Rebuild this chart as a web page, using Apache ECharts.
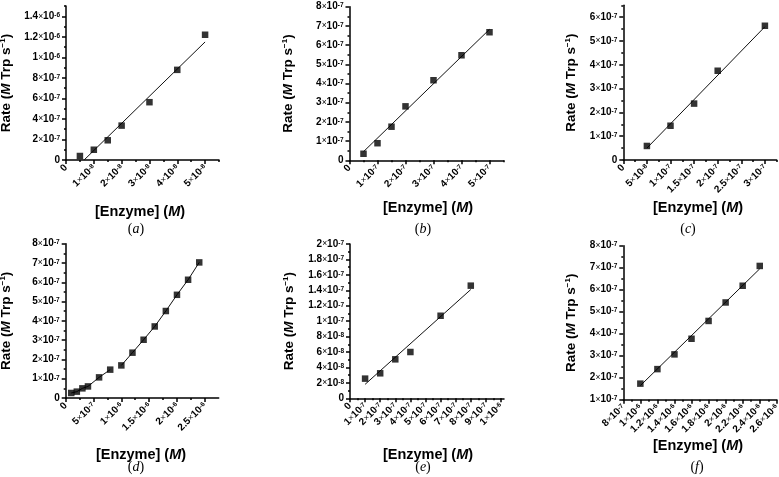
<!DOCTYPE html>
<html><head><meta charset="utf-8">
<script src="https://cdn.jsdelivr.net/npm/echarts@6/dist/echarts.min.js"></script>
<style>html,body{margin:0;padding:0;background:#fff}#c{width:779px;height:477px}</style>
</head><body><div id="c"></div>
<script>
// ---------- data ----------
// (a)
const xA = [0.5e-8, 1e-8, 1.5e-8, 2e-8, 3e-8, 4e-8, 5e-8];
const yA = [0.39e-7, 1.0e-7, 1.92e-7, 3.35e-7, 5.63e-7, 8.78e-7, 1.22e-6];
const fitXA = [0.65e-8, 5e-8];
const fitYA = [0, 1.15e-6];
// (b)
const xB = [0.5e-7, 1e-7, 1.5e-7, 2e-7, 3e-7, 4e-7, 5e-7];
const yB = [3.4e-8, 8.9e-8, 1.75e-7, 2.81e-7, 4.17e-7, 5.47e-7, 6.67e-7];
const fitXB = [0.5e-7, 5e-7];
const fitYB = [0.45e-7, 6.82e-7];
// (c)
const xC = [5e-8, 1e-7, 1.5e-7, 2e-7, 3e-7];
const yC = [5.9e-8, 1.44e-7, 2.37e-7, 3.75e-7, 5.64e-7];
const fitXC = [5e-8, 3e-7];
const fitYC = [5.0e-8, 5.6e-7];
// (d)
const xD = [1e-7, 2e-7, 3e-7, 4e-7, 6e-7, 8e-7, 1.0e-6, 1.2e-6, 1.4e-6, 1.6e-6, 1.8e-6, 2.0e-6, 2.2e-6, 2.4e-6];
const yD = [2.6e-8, 3.3e-8, 5.0e-8, 6.0e-8, 1.07e-7, 1.47e-7, 1.69e-7, 2.35e-7, 3.02e-7, 3.71e-7, 4.51e-7, 5.35e-7, 6.13e-7, 7.03e-7];
const fitXD1 = [1e-7, 2e-7, 3e-7, 4e-7, 6e-7, 8e-7];
const fitYD1 = [2.6e-8, 3.3e-8, 5.0e-8, 6.0e-8, 1.07e-7, 1.47e-7];
const fitXD2 = [1.0e-6, 1.2e-6, 1.4e-6, 1.6e-6, 1.8e-6, 2.0e-6, 2.2e-6, 2.4e-6];
const fitYD2 = [1.69e-7, 2.35e-7, 3.02e-7, 3.71e-7, 4.51e-7, 5.35e-7, 6.13e-7, 7.03e-7];
// (e)
const xE = [1e-7, 2e-7, 3e-7, 4e-7, 6e-7, 8e-7];
const yE = [2.55e-8, 3.24e-8, 5.05e-8, 6.0e-8, 1.07e-7, 1.46e-7];
const fitXE = [1e-7, 8e-7];
const fitYE = [1.81e-8, 1.41e-7];
// (f)
const xF = [1.0e-6, 1.2e-6, 1.4e-6, 1.6e-6, 1.8e-6, 2.0e-6, 2.2e-6, 2.4e-6];
const yF = [1.73e-7, 2.39e-7, 3.06e-7, 3.77e-7, 4.58e-7, 5.42e-7, 6.18e-7, 7.08e-7];
const fitXF = [1e-6, 2.4e-6];
const fitYF = [1.64e-7, 6.95e-7];

// tick values
const xTicksA = [0, 1e-8, 2e-8, 3e-8, 4e-8, 5e-8];
const yTicksA = [0, 2e-7, 4e-7, 6e-7, 8e-7, 1e-6, 1.2e-6, 1.4e-6];
const xTicksB = [0, 1e-7, 2e-7, 3e-7, 4e-7, 5e-7];
const yTicksB = [0, 1e-7, 2e-7, 3e-7, 4e-7, 5e-7, 6e-7, 7e-7, 8e-7];
const xTicksC = [0, 5e-8, 1e-7, 1.5e-7, 2e-7, 2.5e-7, 3e-7];
const yTicksC = [0, 1e-7, 2e-7, 3e-7, 4e-7, 5e-7, 6e-7];
const xTicksD = [0, 5e-7, 1e-6, 1.5e-6, 2e-6, 2.5e-6];
const yTicksD = [0, 1e-7, 2e-7, 3e-7, 4e-7, 5e-7, 6e-7, 7e-7, 8e-7];
const xTicksE = [0, 1e-7, 2e-7, 3e-7, 4e-7, 5e-7, 6e-7, 7e-7, 8e-7, 9e-7, 1e-6];
const yTicksE = [0, 2e-8, 4e-8, 6e-8, 8e-8, 1e-7, 1.2e-7, 1.4e-7, 1.6e-7, 1.8e-7, 2e-7];
const xTicksF = [8e-7, 1e-6, 1.2e-6, 1.4e-6, 1.6e-6, 1.8e-6, 2e-6, 2.2e-6, 2.4e-6, 2.6e-6];
const yTicksF = [1e-7, 2e-7, 3e-7, 4e-7, 5e-7, 6e-7, 7e-7, 8e-7];

const panelLetters = ['a', 'b', 'c', 'd', 'e', 'f'];

// ---------- layout ----------
const panels = [
  {x: xA, y: yA, fits: [[fitXA, fitYA]], xt: xTicksA, yt: yTicksA, xr: [0, 5.5e-8], yr: [0, 1.5e-6],
   g: {left: 66, top: 6, width: 153, height: 154}, xName: [140, 212], yGap: 52, cap: [136, 229]},
  {x: xB, y: yB, fits: [[fitXB, fitYB]], xt: xTicksB, yt: yTicksB, xr: [0, 5.5e-7], yr: [0, 8e-7],
   g: {left: 349.5, top: 6.7, width: 154, height: 153.6}, xName: [428, 208], yGap: 53.5, cap: [423, 229]},
  {x: xC, y: yC, fits: [[fitXC, fitYC]], xt: xTicksC, yt: yTicksC, xr: [0, 3.25e-7], yr: [0, 6.5e-7],
   g: {left: 623.3, top: 5.3, width: 153.4, height: 154.7}, xName: [698, 208], yGap: 44.5, cap: [688, 229]},
  {x: xD, y: yD, fits: [[fitXD1, fitYD1], [fitXD2, fitYD2]], xt: xTicksD, yt: yTicksD, xr: [0, 2.75e-6], yr: [0, 8e-7],
   g: {left: 65.7, top: 243.7, width: 153, height: 154.3}, xName: [141, 455], yGap: 52, cap: [136, 467]},
  {x: xE, y: yE, fits: [[fitXE, fitYE]], xt: xTicksE, yt: yTicksE, xr: [0, 1.02e-6], yr: [0, 2e-7],
   g: {left: 350, top: 244, width: 154, height: 154.3}, xName: [428, 455], yGap: 53.5, cap: [423, 467]},
  {x: xF, y: yF, fits: [[fitXF, fitYF]], xt: xTicksF, yt: yTicksF, xr: [8e-7, 2.6e-6], yr: [1e-7, 8e-7],
   g: {left: 623.3, top: 245.7, width: 153.5, height: 154}, xName: [698, 446], yGap: 44.5, cap: [697, 467]}
];

const SANS = '"Liberation Sans", Arial, sans-serif';
const SERIF = '"Liberation Serif", "Times New Roman", serif';

function sci(v) {
  if (Math.abs(v) < 1e-20) return '{m|0}';
  const parts = v.toExponential(3).split('e');
  const m = +parseFloat(parts[0]).toFixed(2);
  const e = parseInt(parts[1], 10);
  return '{m|' + m + '}{x|×}{m|10}{s|' + (e < 0 ? '-' : '') + Math.abs(e) + '}';
}
const tickRich = {
  m: {fontFamily: SANS, fontWeight: 'bold', fontSize: 10, color: '#000', lineHeight: 9},
  x: {fontFamily: SANS, fontWeight: 'normal', fontSize: 8.5, color: '#000', lineHeight: 9},
  s: {fontFamily: SANS, fontWeight: 'bold', fontSize: 6.5, color: '#000', lineHeight: 5, verticalAlign: 'top'}
};
const nameRich = {
  n: {fontFamily: SANS, fontWeight: 'bold', fontSize: 13.5, color: '#000', lineHeight: 15},
  i: {fontFamily: SANS, fontWeight: 'bold', fontStyle: 'italic', fontSize: 13.5, color: '#000', lineHeight: 15},
  s: {fontFamily: SANS, fontWeight: 'bold', fontSize: 8, color: '#000', lineHeight: 9, verticalAlign: 'top'}
};
const xNameRich = {
  n: {fontFamily: SANS, fontWeight: 'bold', fontSize: 14.5, fill: '#000', color: '#000'},
  i: {fontFamily: SANS, fontWeight: 'bold', fontStyle: 'italic', fontSize: 14.5, fill: '#000', color: '#000'}
};

function minorsOf(ticks, end) {
  const out = [];
  const step = ticks[1] - ticks[0];
  for (let k = 0; k < ticks.length; k++) {
    const mv = ticks[k] + step / 2;
    if (mv <= end * (1 + 1e-9)) out.push(mv);
  }
  return out;
}

const grids = [], xAxes = [], yAxes = [], series = [], graphics = [];
const lineStyleAx = {color: '#000', width: 1.5};

panels.forEach((p, i) => {
  grids.push(Object.assign({outerBoundsMode: 'none', containLabel: false}, p.g));
  xAxes.push({
    type: 'value', gridIndex: i, min: p.xr[0], max: p.xr[1], position: 'bottom',
    axisLine: {show: true, onZero: false, lineStyle: lineStyleAx},
    axisTick: {show: true, customValues: p.xt, length: 4, lineStyle: lineStyleAx},
    axisLabel: {customValues: p.xt, formatter: sci, rich: tickRich, rotate: 45, margin: 6, interval: 0,
      hideOverlap: false, showMinLabel: true, showMaxLabel: true},
    splitLine: {show: false}
  });
  xAxes.push({
    type: 'value', gridIndex: i, min: p.xr[0], max: p.xr[1], position: 'bottom',
    axisLine: {show: false, onZero: false},
    axisTick: {show: true, customValues: minorsOf(p.xt, p.xr[1]), length: 2, lineStyle: lineStyleAx},
    axisLabel: {show: false}, splitLine: {show: false}
  });
  yAxes.push({
    type: 'value', gridIndex: i, min: p.yr[0], max: p.yr[1], position: 'left',
    axisLine: {show: true, onZero: false, lineStyle: lineStyleAx},
    axisTick: {show: true, customValues: p.yt, length: 4, lineStyle: lineStyleAx},
    axisLabel: {customValues: p.yt, formatter: sci, rich: tickRich, margin: 6, interval: 0,
      hideOverlap: false, showMinLabel: true, showMaxLabel: true},
    splitLine: {show: false},
    name: '{n|Rate (}{i|M}{n| Trp s}{s|−1}{n|)}', nameLocation: 'middle', nameGap: p.yGap, nameRotate: 90,
    nameMoveOverlap: false,
    nameTextStyle: {rich: nameRich}
  });
  yAxes.push({
    type: 'value', gridIndex: i, min: p.yr[0], max: p.yr[1], position: 'left',
    axisLine: {show: false, onZero: false},
    axisTick: {show: true, customValues: minorsOf(p.yt, p.yr[1]), length: 2, lineStyle: lineStyleAx},
    axisLabel: {show: false}, splitLine: {show: false}
  });
  p.fits.forEach(f => {
    series.push({
      type: 'line', xAxisIndex: 2 * i, yAxisIndex: 2 * i, showSymbol: false, symbol: 'none',
      data: f[0].map((v, k) => [v, f[1][k]]),
      lineStyle: {color: '#111', width: 1}, z: 2, silent: true, animation: false
    });
  });
  series.push({
    type: 'scatter', xAxisIndex: 2 * i, yAxisIndex: 2 * i, symbol: 'rect', symbolSize: 6.5,
    itemStyle: {color: '#000'}, z: 3, animation: false,
    data: p.x.map((v, k) => [v, p.y[k]])
  });
  graphics.push({
    type: 'text', x: p.xName[0], y: p.xName[1],
    style: {text: '{n|[Enzyme] (}{i|M}{n|)}', align: 'center', verticalAlign: 'middle', rich: xNameRich}
  });
  graphics.push({
    type: 'text', x: p.cap[0], y: p.cap[1],
    style: {
      text: '{p|(}{i|' + panelLetters[i] + '}{p|)}', align: 'center', verticalAlign: 'middle',
      rich: {
        p: {fontFamily: SERIF, fontSize: 14, fill: '#000', color: '#000'},
        i: {fontFamily: SERIF, fontStyle: 'italic', fontSize: 14, fill: '#000', color: '#000'}
      }
    }
  });
});

const chart = echarts.init(document.getElementById('c'), null, {renderer: 'canvas'});
chart.setOption({
  backgroundColor: '#fff',
  animation: false,
  grid: grids, xAxis: xAxes, yAxis: yAxes, series: series, graphic: graphics
});
</script></body></html>
